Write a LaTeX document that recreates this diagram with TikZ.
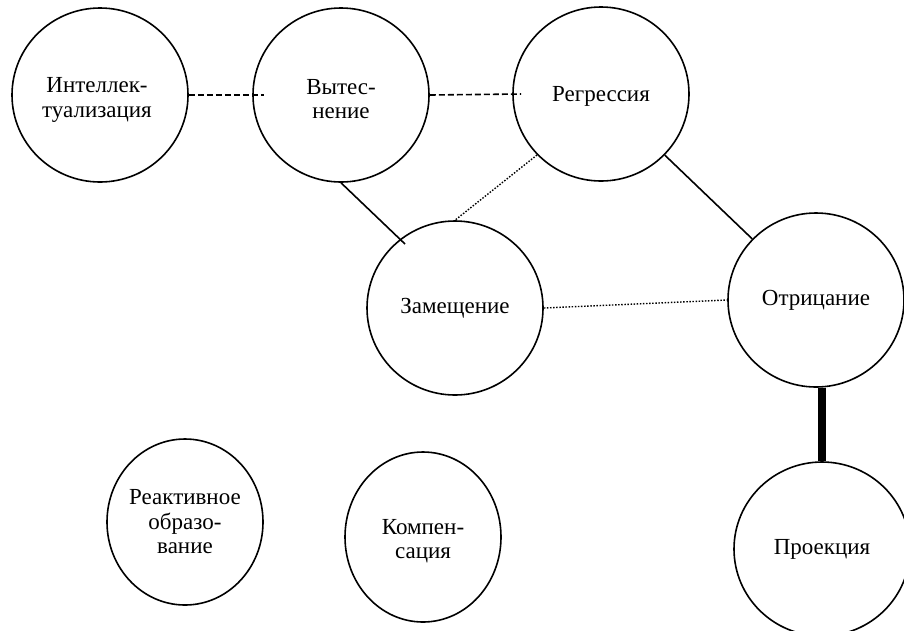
\documentclass[tikz,border=0pt]{standalone}
\usepackage{fontspec}
\setmainfont{Liberation Serif}
\usetikzlibrary{shapes.geometric,calc}
\begin{document}
\begin{tikzpicture}[x=1pt,y=-1pt,
  circ/.style={draw,ellipse,line width=1.6pt,inner sep=0pt,minimum width=176pt,minimum height=174pt},
  txt/.style={inner sep=0pt,align=center,font=\fontsize{23}{24.5}\selectfont},
  conn/.style={line width=1.6pt},
  dashline/.style={line width=1.6pt,dash pattern=on 6pt off 3pt},
  dotline/.style={line width=1.4pt,dash pattern=on 1.5pt off 1.6pt}]
\useasboundingbox (0,0) rectangle (904,630);
\node[circ] (int) at (100,95) {};
\node[circ] (vyt) at (341,95) {};
\node[circ] (reg) at (601,94) {};
\node[circ] (zam) at (455,308) {};
\node[circ] (otr) at (816,300) {};
\node[circ] (pro) at (822,549) {};
\node[circ,minimum width=156pt,minimum height=166pt] (rea) at (185,522) {};
\node[circ,minimum width=156pt,minimum height=170pt] (kom) at (423,537) {};
\node[txt] (intT) at ($(int.center)+(-3,5)$) {Интеллек-\\туализация};
\node[txt] (vytT) at ($(vyt.center)+(0,4)$) {Вытес-\\нение};
\node[txt] (regT) at ($(reg.center)+(0,2)$) {Регрессия};
\node[txt] (zamT) at ($(zam.center)+(0,0)$) {Замещение};
\node[txt] (otrT) at ($(otr.center)+(0,0)$) {Отрицание};
\node[txt] (proT) at ($(pro.center)+(0,0)$) {Проекция};
\node[txt] (reaT) at ($(rea.center)+(0,0)$) {Реактивное\\образо-\\вание};
\node[txt] (komT) at ($(kom.center)+(0,4)$) {Компен-\\сация};
\draw[dashline] (int.east) -- ([xshift=12pt]vyt.west);
\draw[dashline] (vyt.east) -- ([xshift=9pt]reg.west);
\draw[conn] (vyt.south) -- ($(zam.center)+(-50,-64)$);
\draw[dotline] ($(reg.center)+(-64,61)$) -- (zam.north);
\draw[conn] (reg) -- (otr);
\draw[dotline] (zam.east) -- (otr.west);
\draw[line width=8pt] (pro.north |- otr.south) -- (pro.north);
\end{tikzpicture}
\end{document}
